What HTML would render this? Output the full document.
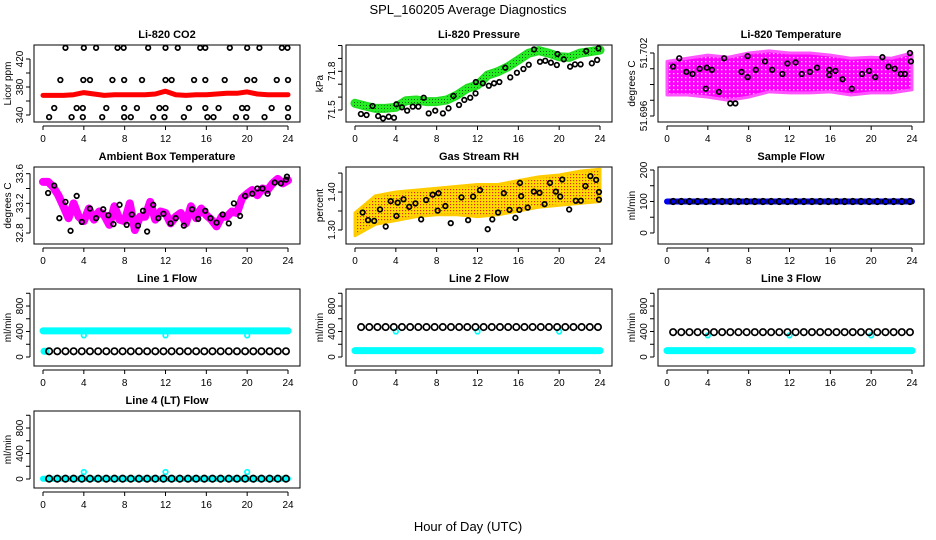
<!DOCTYPE html>
<html><head><meta charset="utf-8">
<style>
html,body{margin:0;padding:0;background:#fff;}
svg{display:block;font-family:"Liberation Sans",Arial,sans-serif;}
</style></head>
<body>
<svg id="chart" width="936" height="540" viewBox="0 0 936 540" xmlns="http://www.w3.org/2000/svg">
<defs>
<pattern id="rhpat" width="3" height="3" patternUnits="userSpaceOnUse"><rect width="3" height="3" fill="#ffdc00"/><rect width="1.2" height="1.2" fill="#e8281c"/></pattern>
<pattern id="grpat" width="3" height="3" patternUnits="userSpaceOnUse"><rect width="3" height="3" fill="#22ee22"/><rect width="1" height="1" fill="#106010"/></pattern>
<pattern id="mgpat" width="4" height="4" patternUnits="userSpaceOnUse"><rect width="4" height="4" fill="#ff00ff"/><rect x="1" y="1" width="1.3" height="1.3" fill="#ffffff"/></pattern>
</defs>
<text x="468" y="14" text-anchor="middle" font-size="13">SPL_160205  Average Diagnostics</text>
<text x="468" y="531" text-anchor="middle" font-size="13">Hour of Day (UTC)</text>
</svg>
<script>
// ---------- data ----------
const xTicks = [0,4,8,12,16,20,24];
// CO2
const co2BandHours = [0,1,2,3,4,5,6,7,8,9,10,11,12,13,14,15,16,17,18,19,20,21,22,23,24];
const co2Band = [368,368,368,369,372,370,368,369,369,369,369,370,374,369,368,369,369,370,371,371,373,370,369,369,369];
const co2PtHours = [2.2,4.0,5.2,7.3,7.9,10.3,12.0,13.2,15.4,15.9,18.3,20.0,21.2,23.4,23.95,
 1.7,3.95,4.6,6.8,7.95,9.7,12.0,12.6,14.8,15.9,17.8,20.0,20.7,22.9,24.0,
 1.1,3.3,3.9,6.2,7.95,9.2,11.4,12.0,14.3,15.9,17.2,19.5,20.0,22.4,24.0,
 0.6,2.8,3.9,5.8,7.95,8.6,10.8,11.9,13.8,16.1,16.7,18.9,19.9,21.7,24.0];
const co2PtVals = [436,436,436,436,436,436,436,436,436,436,436,436,436,436,436,
 390,390,390,390,390,390,390,390,390,390,390,390,390,390,390,
 350,350,350,350,350,350,350,350,350,350,350,350,350,350,350,
 337,337,337,337,337,337,337,337,337,337,337,337,337,337,337];
// Pressure
const presBandHours = [0,1,2,3,4,5,6,7,8,9,10,11,12,13,14,15,16,17,18,19,20,21,22,23,24];
const presBand = [71.552,71.531,71.513,71.513,71.521,71.572,71.578,71.565,71.565,71.578,71.616,71.668,71.694,71.771,71.797,71.836,71.888,71.94,71.96,71.94,71.913,71.908,71.94,71.952,71.965];
const presPtHours = [0.58,1.13,1.72,2.27,2.75,3.3,3.82,4.05,4.6,5.11,5.66,6.21,6.73,7.22,7.86,8.61,9.16,9.64,10.19,10.71,11.29,11.81,11.84,12.52,13.11,13.62,14.14,14.72,15.21,15.86,16.5,17.02,17.54,18.12,18.64,19.19,19.77,19.84,20.45,21.07,21.55,22.1,22.65,23.2,23.72,23.85];
const presPtVals = [71.469,71.461,71.531,71.453,71.435,71.448,71.44,71.544,71.521,71.495,71.526,71.526,71.595,71.474,71.495,71.474,71.513,71.609,71.539,71.578,71.595,71.629,71.717,71.707,71.688,71.707,71.717,71.828,71.753,71.789,71.818,71.851,71.97,71.874,71.882,71.867,71.849,71.934,71.893,71.836,71.854,71.854,71.957,71.862,71.888,71.978];
// Li-820 temperature
const tempBandHours = [0,2,4,6,8,10,12,14,16,18,20,22,24];
const tempLo = [51.6980,51.6980,51.6978,51.6975,51.6978,51.6983,51.6982,51.6982,51.6983,51.6980,51.6982,51.6982,51.6985];
const tempHi = [51.7012,51.7015,51.7018,51.7016,51.7020,51.7022,51.7020,51.7020,51.7018,51.7015,51.7016,51.7015,51.7020];
const tempPtHours = [0.6,1.2,1.9,2.5,3.2,3.9,3.8,4.4,5.1,5.6,6.2,6.7,7.3,7.9,7.9,8.7,9.6,10.3,11.3,11.8,12.6,13.2,14.0,14.7,15.9,15.9,16.5,17.2,18.1,19.1,19.8,20.4,21.1,21.7,22.3,22.9,23.3,23.8,23.9];
const tempPtVals = [51.7007,51.7015,51.7002,51.7000,51.7005,51.7006,51.6986,51.7004,51.6983,51.7015,51.6972,51.6972,51.7002,51.7017,51.6997,51.7004,51.7012,51.7004,51.7000,51.7010,51.7011,51.7000,51.7002,51.7006,51.7004,51.6999,51.7003,51.6995,51.6986,51.7000,51.7003,51.6997,51.7016,51.7007,51.7005,51.7000,51.7000,51.7020,51.7012];
// Ambient box temperature
const ambBandHours = [0,0.5,1,1.5,2,2.5,3,3.5,4,4.5,5,5.5,6,6.5,7,7.5,8,8.5,9,9.5,10,10.5,11,11.5,12,12.5,13,13.5,14,14.5,15,15.5,16,16.5,17,17.5,18,18.5,19,19.5,20,20.5,21,21.5,22,22.5,23,23.5,24];
const ambBand = [33.49,33.49,33.42,33.31,33.16,33.00,33.20,33.02,32.96,33.13,32.98,33.09,33.04,32.91,33.16,32.98,32.96,33.20,32.84,33.02,33.02,33.22,32.98,33.09,33.07,32.93,33.02,33.07,32.93,33.16,33.00,33.13,33.04,32.98,32.89,33.02,33.02,33.09,33.07,33.27,33.33,33.38,33.31,33.40,33.38,33.47,33.53,33.47,33.51];
const ambPtHours = [0.5,1.1,1.6,2.2,2.7,3.3,3.8,4.6,5.2,5.9,6.4,6.9,7.5,8.2,8.7,9.3,9.8,10.2,10.8,11.3,11.8,12.5,13.0,13.8,14.6,15.2,15.9,16.4,17.0,17.6,18.2,18.7,19.3,19.8,20.5,21.0,21.5,22.0,22.7,23.3,23.8,23.9];
const ambPtVals = [33.34,33.44,33.0,33.22,32.83,33.3,32.95,33.13,33.0,33.12,33.04,32.92,33.18,32.91,33.05,32.9,33.1,32.82,33.18,33.0,33.06,32.93,33.0,32.9,33.12,32.99,33.1,33.0,32.94,33.05,32.93,33.2,33.03,33.3,33.33,33.4,33.4,33.33,33.48,33.47,33.52,33.56];
// Gas stream RH
const rhBandHours = [0,2,4,6,8,10,12,14,16,18,20,22,24];
const rhLo = [1.285,1.315,1.325,1.335,1.34,1.34,1.335,1.34,1.35,1.36,1.365,1.37,1.375];
const rhHi = [1.345,1.39,1.40,1.405,1.41,1.415,1.42,1.42,1.43,1.44,1.445,1.455,1.46];
const rhPtHours = [0.75,1.28,1.88,2.45,3.01,3.5,4.06,4.18,4.75,5.31,5.92,6.48,6.97,7.61,8.1,8.18,8.85,9.38,10.43,11.08,11.57,12.24,13.0,13.45,14.02,14.58,15.14,15.71,16.16,16.28,16.1,16.92,17.52,18.08,18.57,19.1,19.67,20.3,20.1,20.98,21.63,22.12,22.57,23.06,23.62,23.9,23.9];
const rhPtVals = [1.346,1.326,1.324,1.354,1.309,1.376,1.337,1.372,1.381,1.361,1.370,1.328,1.379,1.393,1.351,1.397,1.363,1.318,1.386,1.326,1.388,1.405,1.302,1.328,1.346,1.397,1.353,1.332,1.424,1.389,1.353,1.359,1.401,1.398,1.368,1.424,1.401,1.433,1.388,1.354,1.377,1.377,1.416,1.442,1.432,1.38,1.40];
// Flows
const flowBandHours = [0,24];
const flowPtHours = [0.6,1.4,2.2,3.0,3.8,4.6,5.4,6.2,7.0,7.8,8.6,9.4,10.2,11.0,11.8,12.6,13.4,14.2,15.0,15.8,16.6,17.4,18.2,19.0,19.8,20.6,21.4,22.2,23.0,23.8];
const dipHours = [4,12,20];
const sampleBand = [100,100];
const samplePts = [100,100,100,100,100,100,100,100,100,100,100,100,100,100,100,100,100,100,100,100,100,100,100,100,100,100,100,100,100,100];
const line1Cyan = [410,410];
const line1Dips = [340,340,340];
const line1Pts = [90,90,90,90,90,90,90,90,90,90,90,90,90,90,90,90,90,90,90,90,90,90,90,90,90,90,90,90,90,90];
const line2Cyan = [100,100];
const line2Dips = [400,400,400];
const line2Pts = [470,470,470,470,470,470,470,470,470,470,470,470,470,470,470,470,470,470,470,470,470,470,470,470,470,470,470,470,470,470];
const line3Cyan = [100,100];
const line3Dips = [340,340,340];
const line3Pts = [390,390,390,390,390,390,390,390,390,390,390,390,390,390,390,390,390,390,390,390,390,390,390,390,390,390,390,390,390,390];
const line4Cyan = [5,5];
const line4Dips = [110,110,110];
const line4Pts = [5,5,5,5,5,5,5,5,5,5,5,5,5,5,5,5,5,5,5,5,5,5,5,5,5,5,5,5,5,5];

// ---------- drawing ----------
const NS = 'http://www.w3.org/2000/svg';
const svg = document.getElementById('chart');
function mk(tag, parent, attrs) {
  const e = document.createElementNS(NS, tag);
  for (const k in attrs) e.setAttribute(k, attrs[k]);
  parent.appendChild(e);
  return e;
}
function panel(c, r, name, title, ylab, ymin, ymax, ticks, labels) {
  const L = 34 + 312*c, R = 300 + 312*c, T = 45 + 122*r, B = 122 + 122*r;
  const g = mk('g', svg, {});
  
  
  const X = h => 43 + 312*c + h*245/24;
  const Y = v => B - (v - ymin)/(ymax - ymin)*(B - T);
  const t = mk('text', g, {x:(L+R)/2, y:T-7, 'text-anchor':'middle', 'font-size':11, 'font-weight':'bold'});
  t.textContent = title;
  
  
  const yl = mk('text', g, {x:0, y:0, 'text-anchor':'middle', 'font-size':10, transform:`translate(${L-23},${(T+B)/2}) rotate(-90)`});
  yl.textContent = ylab;
  
  
  const xa = mk('g', g, {});
  
  
  mk('line', xa, {x1:X(0), x2:X(24), y1:B+4, y2:B+4, stroke:'#000', 'stroke-width':1});
  xTicks.forEach(h => {
    mk('line', xa, {x1:X(h), x2:X(h), y1:B+4, y2:B+8, stroke:'#000', 'stroke-width':1});
    const tl = mk('text', xa, {x:X(h), y:B+20, 'text-anchor':'middle', 'font-size':10});
    tl.textContent = h;
    
    
  });
  const ya = mk('g', g, {});
  
  
  mk('line', ya, {x1:L-4, x2:L-4, y1:Y(ticks[0]), y2:Y(ticks[ticks.length-1]), stroke:'#000', 'stroke-width':1});
  ticks.forEach(v => {
    mk('line', ya, {x1:L-8, x2:L-4, y1:Y(v), y2:Y(v), stroke:'#000', 'stroke-width':1});
  });
  labels.forEach(v => {
    const tl = mk('text', ya, {x:0, y:0, 'text-anchor':'middle', 'font-size':10, transform:`translate(${L-11},${Y(v)}) rotate(-90)`});
    tl.textContent = v;
    
    
  });
  const plot = mk('g', g, {});
  
  
  const box = mk('rect', g, {x:L, y:T, width:R-L, height:B-T, fill:'none', stroke:'#000', 'stroke-width':1});
  
  
  return {plot, X, Y};
}
function line(p, hours, vals, color, w, name) {
  const pl = mk('polyline', p.plot, {points: hours.map((h,i) => p.X(h)+','+p.Y(vals[i])).join(' '), fill:'none', stroke:color, 'stroke-width':w, 'stroke-linejoin':'round', 'stroke-linecap':'round'});
  
  
}
function band(p, hours, lo, hi, fill, edge, name) {
  const pts = hours.map((h,i) => p.X(h)+','+p.Y(hi[i])).concat(hours.slice().reverse().map((h,j) => p.X(h)+','+p.Y(lo[hours.length-1-j])));
  const pg = mk('polygon', p.plot, {points: pts.join(' '), fill:fill, stroke:edge, 'stroke-width':3, 'stroke-linejoin':'round'});
  
  
}
function pts(p, hours, vals, color, r, sw, name) {
  hours.forEach((h,i) => {
    const ci = mk('circle', p.plot, {cx:p.X(h), cy:p.Y(vals[i]), r:r, fill:'none', stroke:color, 'stroke-width':sw});
    
    
  });
}

// Row 1
let p = panel(0,0,'co2','Li-820 CO2','Licor ppm',330,440,[340,360,380,400,420],[340,380,420]);
line(p, co2BandHours, co2Band, '#ff0000', 5, 'co2-series');
pts(p, co2PtHours, co2PtVals, '#000', 2.3, 1.7, 'co2-point');

p = panel(1,0,'pressure','Li-820 Pressure','kPa',71.407,72.004,[71.5,71.6,71.7,71.8,71.9,72.0],[71.5,71.8]);
line(p, presBandHours, presBand, '#22dd22', 9, 'pressure-series');
line(p, presBandHours, presBand, 'url(#grpat)', 6, 'pressure-series-core');
pts(p, presPtHours, presPtVals, '#000', 2.3, 1.7, 'pressure-point');

p = panel(2,0,'li820-temp','Li-820 Temperature','degrees C',51.69543,51.70276,[51.696,51.6975,51.699,51.7005,51.702],[51.696,51.702]);
band(p, tempBandHours, tempLo, tempHi, 'url(#mgpat)', '#ff55ff', 'li820-temp-series');
pts(p, tempPtHours, tempPtVals, '#000', 2.3, 1.7, 'li820-temp-point');

// Row 2
p = panel(0,1,'ambient-temp','Ambient Box Temperature','degrees C',32.652,33.690,[32.8,33.0,33.2,33.4,33.6],[32.8,33.2,33.6]);
line(p, ambBandHours, ambBand, '#ff00ff', 8, 'ambient-temp-series');
pts(p, ambPtHours, ambPtVals, '#000', 2.3, 1.7, 'ambient-temp-point');

p = panel(1,1,'gas-rh','Gas Stream RH','percent',1.263,1.466,[1.30,1.35,1.40,1.45],['1.30','1.40']);
band(p, rhBandHours, rhLo, rhHi, 'url(#rhpat)', '#ffcc00', 'gas-rh-series');
pts(p, rhPtHours, rhPtVals, '#000', 2.3, 1.7, 'gas-rh-point');

p = panel(2,1,'sample-flow','Sample Flow','ml/min',-35,209.5,[0,50,100,150,200],[0,100,200]);
line(p, flowBandHours, sampleBand, '#0000ee', 6, 'sample-flow-series');
pts(p, flowPtHours, samplePts, '#000', 2.8, 1.7, 'sample-flow-point');

// Row 3-4
const flowTicks = [0,200,400,600,800,1000], flowLabels = [0,400,800];
p = panel(0,2,'line1-flow','Line 1 Flow','ml/min',-141,1067,flowTicks,flowLabels);
line(p, flowBandHours, line1Cyan, '#00ffff', 7, 'line1-cyan-series');
pts(p, dipHours, line1Dips, '#00ffff', 2.3, 1.7, 'line1-cyan-point');
line(p, [0.1,0.3], [line1Pts[0],line1Pts[0]], '#00ffff', 7, 'line1-cyan-start');
pts(p, flowPtHours, line1Pts, '#000', 3.2, 1.7, 'line1-point');

p = panel(1,2,'line2-flow','Line 2 Flow','ml/min',-141,1067,flowTicks,flowLabels);
line(p, flowBandHours, line2Cyan, '#00ffff', 7, 'line2-cyan-series');
pts(p, dipHours, line2Dips, '#00ffff', 2.3, 1.7, 'line2-cyan-point');
pts(p, flowPtHours, line2Pts, '#000', 3.2, 1.7, 'line2-point');

p = panel(2,2,'line3-flow','Line 3 Flow','ml/min',-141,1067,flowTicks,flowLabels);
line(p, flowBandHours, line3Cyan, '#00ffff', 7, 'line3-cyan-series');
pts(p, dipHours, line3Dips, '#00ffff', 2.3, 1.7, 'line3-cyan-point');
pts(p, flowPtHours, line3Pts, '#000', 3.2, 1.7, 'line3-point');

p = panel(0,3,'line4-flow','Line 4 (LT) Flow','ml/min',-141,1067,flowTicks,flowLabels);
line(p, flowBandHours, line4Cyan, '#00ffff', 6, 'line4-cyan-series');
pts(p, dipHours, line4Dips, '#00ffff', 2.3, 1.7, 'line4-cyan-point');
pts(p, flowPtHours, line4Pts, '#000', 3.2, 1.7, 'line4-point');
</script>
</body></html>
